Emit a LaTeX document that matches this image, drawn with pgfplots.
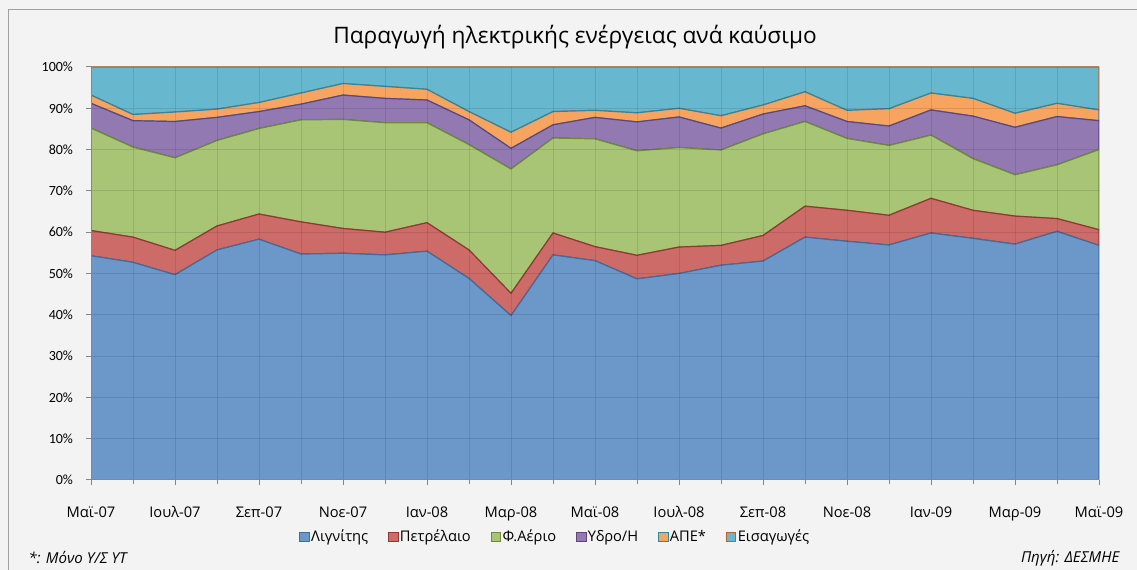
\documentclass[border=0pt]{standalone}
\usepackage{fontspec}
\setmainfont{Open Sans}
\newfontfamily\calfont{Carlito}
\usepackage{pgfplots}
\pgfplotsset{compat=1.18}
\usepackage{pgfplotstable}

\definecolor{bgc}{HTML}{F3F3F3}
\definecolor{framec}{HTML}{A0A0A0}
\definecolor{axc}{HTML}{868686}
\definecolor{Lf}{HTML}{6B97C9}
\definecolor{Ld}{HTML}{416C9E}
\definecolor{Of}{HTML}{CD6B69}
\definecolor{Od}{HTML}{943634}
\definecolor{Gf}{HTML}{A8C475}
\definecolor{Gd}{HTML}{6E8A3A}
\definecolor{Hf}{HTML}{9279B2}
\definecolor{Hd}{HTML}{5D4680}
\definecolor{Rf}{HTML}{F6A45F}
\definecolor{Rd}{HTML}{31859C}
\definecolor{If}{HTML}{67B7CF}
\definecolor{Id}{HTML}{B5652B}

\pgfplotstableread{
x L O G H R I
0 54.3 6.1 24.8 6.0 2.0 6.8
1 52.7 6.1 21.8 6.4 1.5 11.5
2 49.7 5.9 22.4 8.8 2.3 10.9
3 55.7 5.8 20.7 5.6 2.0 10.2
4 58.3 6.1 20.7 4.1 2.2 8.6
5 54.7 7.8 24.7 3.8 2.7 6.3
6 54.9 6.0 26.4 5.9 2.8 4.0
7 54.5 5.5 26.5 5.9 2.9 4.7
8 55.4 6.9 24.2 5.5 2.6 5.4
9 48.8 6.9 25.5 6.0 2.0 10.8
10 39.8 5.4 30.1 5.0 3.9 15.8
11 54.5 5.3 23.0 3.2 3.2 10.8
12 53.1 3.4 26.1 5.2 1.7 10.5
13 48.7 5.7 25.3 7.0 2.2 11.1
14 50.0 6.4 24.1 7.4 2.1 10.0
15 52.0 4.8 23.1 5.3 3.0 11.8
16 53.0 6.2 24.6 4.8 2.2 9.2
17 58.8 7.5 20.5 3.8 3.4 6.0
18 57.8 7.5 17.4 4.1 2.7 10.5
19 56.9 7.2 16.9 4.7 4.2 10.1
20 59.8 8.4 15.3 6.1 4.1 6.3
21 58.5 6.8 12.5 10.3 4.3 7.6
22 57.1 6.8 10.0 11.5 3.4 11.2
23 60.2 3.1 13.0 11.7 3.2 8.8
24 56.8 3.8 19.4 7.0 2.6 10.4
}\datatab

\begin{document}
\begin{tikzpicture}
\useasboundingbox (0,0) rectangle (852.75pt,427.5pt);
\fill[bgc] (0,0) rectangle (852.75pt,427.5pt);
\draw[framec, line width=0.75pt] (6pt,-2pt) -- (6pt,420pt) -- (855pt,420pt);
\begin{axis}[
  at={(68.25pt,67.5pt)}, anchor=south west,
  scale only axis, width=756pt, height=309.75pt,
  xmin=0, xmax=24, ymin=0, ymax=100,
  stack plots=y,
  area style,
  axis on top,
  axis x line*=bottom, axis y line*=left,
  axis line style={color=axc, line width=0.75pt},
  tick align=outside,
  xtick={0,2,...,24},
  minor xtick={1,3,...,23},
  xticklabels={Μαϊ-07,Ιουλ-07,Σεπ-07,Νοε-07,Ιαν-08,Μαρ-08,Μαϊ-08,Ιουλ-08,Σεπ-08,Νοε-08,Ιαν-09,Μαρ-09,Μαϊ-09},
  ytick={0,10,...,100},
  yticklabels={0\%,10\%,20\%,30\%,40\%,50\%,60\%,70\%,80\%,90\%,100\%},
  major tick length=4pt, minor tick length=3pt,
  every tick/.style={color=axc, line width=0.75pt},
  xmajorgrids, xminorgrids, ymajorgrids,
  major grid style={color=black, opacity=0.10, line width=0.75pt},
  minor grid style={color=black, opacity=0.10, line width=0.75pt},
  xticklabel style={font=\fontsize{11}{13}\selectfont, text=black, text height=8.5pt, text depth=2.5pt, anchor=north, yshift=-12pt},
  yticklabel style={font=\calfont\fontsize{10.5}{12}\selectfont, text=black, xshift=-6pt},
  legend style={at={(0.461,-0.138)}, anchor=center, draw=none, fill=none,
    legend columns=6, font=\fontsize{11}{13}\selectfont,
    /tikz/every even column/.append style={column sep=13pt},
    /tikz/every odd column/.append style={column sep=-1pt}},
  legend image code/.code={\draw[#1, line width=0.75pt] (0pt,-3.6pt) rectangle (7pt,3.6pt);},
]
\addplot[fill=Lf, draw=Ld, line width=0.9pt] table[x=x,y=L]{\datatab} \closedcycle;
\addplot[fill=Of, draw=Od, line width=0.9pt] table[x=x,y=O]{\datatab} \closedcycle;
\addplot[fill=Gf, draw=Gd, line width=0.9pt] table[x=x,y=G]{\datatab} \closedcycle;
\addplot[fill=Hf, draw=Hd, line width=0.9pt] table[x=x,y=H]{\datatab} \closedcycle;
\addplot[fill=Rf, draw=Rd, line width=0.9pt] table[x=x,y=R]{\datatab} \closedcycle;
\addplot[fill=If, draw=Id, line width=0.9pt] table[x=x,y=I]{\datatab} \closedcycle;
\legend{Λιγνίτης, Πετρέλαιο, Φ.Αέριο, Υδρο/Η, ΑΠΕ*, Εισαγωγές}
\end{axis}
\node[font=\fontsize{17}{21}\selectfont] at (431.25pt,399.75pt) {Παραγωγή ηλεκτρικής ενέργειας ανά καύσιμο};
\node[anchor=west, font=\itshape\fontsize{11.3}{13}\selectfont] at (18pt,9pt) {*: Μόνο Υ/Σ ΥΤ};
\node[anchor=east, font=\itshape\fontsize{11.3}{13}\selectfont] at (843pt,9pt) {Πηγή: ΔΕΣΜΗΕ};
\end{tikzpicture}
\end{document}
